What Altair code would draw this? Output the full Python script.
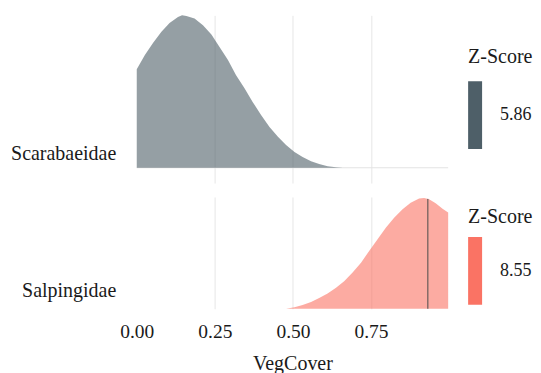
import altair as alt
import pandas as pd

# ---- data ----
families = ["Scarabaeidae", "Salpingidae"]
z_scores = [5.86, 8.55]
z_colors = ["#4E5F68", "#FA7364"]

scar_x = [0.0, 0.026, 0.052, 0.079, 0.105, 0.132, 0.145, 0.159, 0.185, 0.212,
          0.239, 0.265, 0.292, 0.318, 0.345, 0.371, 0.398, 0.425, 0.452, 0.478,
          0.505, 0.531, 0.558, 0.584, 0.611, 0.638, 0.66]
scar_d = [1.81, 2.07, 2.29, 2.50, 2.66, 2.77, 2.80, 2.79, 2.74, 2.62,
          2.45, 2.22, 1.98, 1.70, 1.46, 1.21, 0.97, 0.75, 0.57, 0.42,
          0.29, 0.20, 0.12, 0.07, 0.03, 0.01, 0.0]

salp_x = [0.478, 0.505, 0.531, 0.558, 0.584, 0.611, 0.638, 0.664, 0.691, 0.718,
          0.744, 0.771, 0.798, 0.824, 0.851, 0.877, 0.904, 0.92, 0.936, 0.957,
          0.979, 0.997]
salp_d = [0.0, 0.05, 0.12, 0.21, 0.34, 0.48, 0.66, 0.87, 1.14, 1.45,
          1.82, 2.19, 2.56, 2.87, 3.13, 3.34, 3.47, 3.49, 3.45, 3.32,
          3.15, 3.03]

salp_marker_x = [0.932]
salp_marker_d = [3.46]

x_ticks = [0.0, 0.25, 0.5, 0.75]

FONT = "Liberation Serif"
TXT = "#1a1a1a"

top_df = pd.DataFrame({"VegCover": scar_x, "density": scar_d, "z": z_scores[0]})
bot_df = pd.DataFrame({"VegCover": salp_x, "density": salp_d, "z": z_scores[1]})
mark_df = pd.DataFrame({"VegCover": salp_marker_x, "d0": [0.0], "density": salp_marker_d})
base_df = pd.DataFrame({"VegCover": [0.0], "density": [0.0]})

xscale = alt.Scale(domain=[0, 0.997], nice=False, zero=False)
grid_op = {"condition": {"test": "datum.value === 0", "value": 0}, "value": 1}


def x_axis(show_x):
    if show_x:
        return alt.Axis(values=x_ticks, format=".2f", grid=True, gridColor="#e6e6e6",
                        gridOpacity=grid_op, domain=False, ticks=False, labelFlush=False,
                        labelFontSize=19.5, labelColor=TXT, labelFont=FONT, labelPadding=14,
                        title="VegCover", titleFontSize=20, titleFont=FONT,
                        titleFontWeight="normal", titleColor=TXT, titlePadding=12)
    return alt.Axis(values=x_ticks, grid=True, gridColor="#e6e6e6", gridOpacity=grid_op,
                    domain=False, ticks=False, labels=False, title=None)


def y_axis(fam, label_offset):
    return alt.Axis(values=[0], labelExpr="'" + fam + "'", title=None, grid=False,
                    domain=False, ticks=False, labelPadding=21, labelFontSize=20,
                    labelFont=FONT, labelColor=TXT, labelOffset=label_offset,
                    labelBaseline="alphabetic")


def panel(df, fam, z, color, ydom, label_offset, legend_y, title_pad, show_x):
    legend = alt.Legend(title="Z-Score", values=[z], format=".2f", orient="none",
                        legendX=332, legendY=legend_y, direction="vertical",
                        gradientLength=68, gradientThickness=14, gradientStrokeWidth=0,
                        titleFont=FONT, titleFontSize=20, titleFontWeight="normal",
                        titleColor=TXT, titlePadding=title_pad, labelFont=FONT,
                        labelFontSize=18, labelColor=TXT, labelOffset=18)
    area = alt.Chart(df).mark_area(fillOpacity=0.6).encode(
        x=alt.X("VegCover:Q", scale=xscale, axis=x_axis(show_x)),
        y=alt.Y("density:Q", scale=alt.Scale(domain=ydom, nice=False, zero=False),
                axis=y_axis(fam, label_offset)),
        color=alt.Color("z:Q", scale=alt.Scale(domain=[z - 0.01, z + 0.01], range=[color, color]),
                        legend=legend),
    )
    return area


top_ydom = [-0.28, 2.8]
top_area = panel(top_df, families[0], z_scores[0], z_colors[0], top_ydom, -8, 32, 14, False)
top_base = alt.Chart(base_df).mark_rule(color="#e3e3e3", strokeWidth=1.2).encode(
    y=alt.Y("density:Q", scale=alt.Scale(domain=top_ydom, nice=False, zero=False),
            axis=y_axis(families[0], -8))
)
top = alt.layer(top_base, top_area).properties(width=312, height=168)

bot_ydom = [0, 3.52]
bot_area = panel(bot_df, families[1], z_scores[1], z_colors[1], bot_ydom, -12, 10, 10, True)
bot_rule = alt.Chart(mark_df).mark_rule(color="#4a4a4a", strokeWidth=1).encode(
    x=alt.X("VegCover:Q", scale=xscale, axis=x_axis(True)),
    y=alt.Y("d0:Q", scale=alt.Scale(domain=bot_ydom, nice=False, zero=False),
            axis=y_axis(families[1], -12)),
    y2="density:Q",
)
bottom = alt.layer(bot_area, bot_rule).properties(width=312, height=112)

chart = (
    alt.vconcat(top, bottom, spacing=14)
    .resolve_scale(color="independent", y="independent")
    .resolve_legend(color="independent")
    .configure(font=FONT, padding={"left": 2, "top": 7, "right": 0, "bottom": 0})
    .configure_view(stroke=None)
)

chart.save("out.html", embed_options={"renderer": "svg", "actions": False})
